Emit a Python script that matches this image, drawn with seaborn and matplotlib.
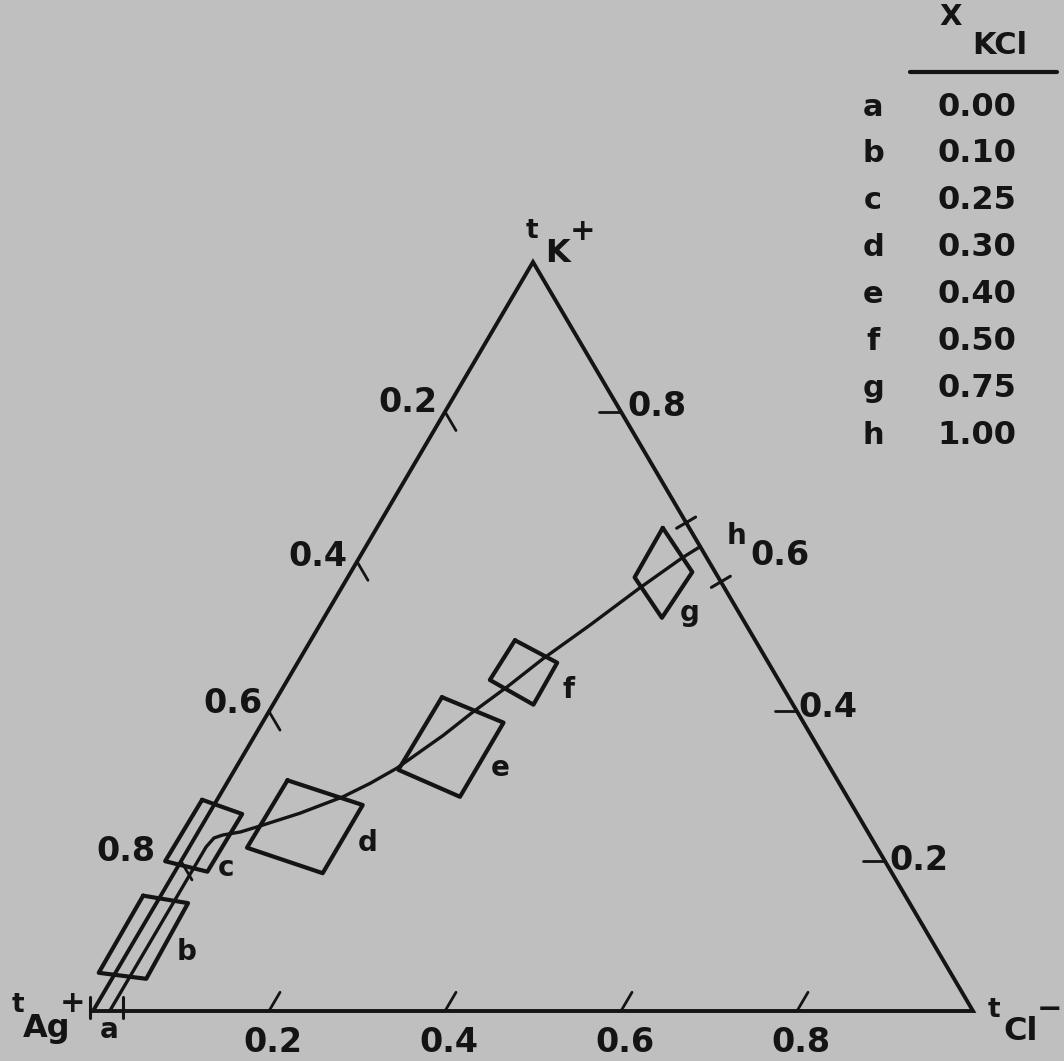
import numpy as np
import pandas as pd
import matplotlib
matplotlib.use("Agg")
import matplotlib.pyplot as plt
import seaborn as sns

# ---------------- data (transference numbers; t_Ag+ = 1 - t_K+ - t_Cl-) ----------------
tick_values = [0.2, 0.4, 0.6, 0.8]
tick_labels = ["0.2", "0.4", "0.6", "0.8"]

point_ids = ["a", "b", "c", "d", "e", "f", "g", "h"]
x_kcl_labels = ["0.00", "0.10", "0.25", "0.30", "0.40", "0.50", "0.75", "1.00"]

# smooth curve through the compositions a ... h
curve_t_cl = [0.019, 0.019, 0.022, 0.030, 0.048, 0.064, 0.103, 0.141, 0.163,
              0.183, 0.214, 0.232, 0.255, 0.276, 0.307, 0.339, 0.367, 0.380]
curve_t_k = [0.000, 0.219, 0.231, 0.235, 0.239, 0.246, 0.264, 0.286, 0.304,
             0.324, 0.368, 0.399, 0.434, 0.470, 0.515, 0.565, 0.605, 0.620]

# uncertainty parallelograms (corners in drawing order)
box_ids = ["b", "c", "d", "e", "f", "g"]
box_t_cl = {
    "b": [-0.020, 0.036, 0.039, -0.019],
    "c": [-0.017, 0.038, 0.037, -0.018],
    "d": [0.067, 0.169, 0.169, 0.066],
    "e": [0.187, 0.274, 0.274, 0.186],
    "f": [0.232, 0.295, 0.296, 0.230],
    "g": [0.325, 0.388, 0.384, 0.326],
}
box_t_k = {
    "b": [0.154, 0.144, 0.043, 0.051],
    "c": [0.282, 0.263, 0.186, 0.200],
    "d": [0.308, 0.275, 0.184, 0.218],
    "e": [0.419, 0.385, 0.286, 0.322],
    "f": [0.495, 0.465, 0.409, 0.442],
    "g": [0.645, 0.586, 0.525, 0.579],
}

# error limits for the end members
a_limits_t_cl = [-0.003, 0.034]   # pure AgCl, on the base
h_limits_t_k = [0.573, 0.652]     # pure KCl, on the right side

# ---------------- geometry / style ----------------
W_PX, H_PX = 1064, 1061
SKEW = 749 / 880          # height/base of the drawn triangle
SCALE = 880               # pixels per unit
ORIGIN = (93, 1011)       # pixel position of the Ag+ corner

BG = "#bfbfbf"
INK = "#141414"
FONT = "DejaVu Sans"
WT = "bold"


def cart(t_cl, t_k):
    t_cl = np.asarray(t_cl, float)
    t_k = np.asarray(t_k, float)
    return t_cl + 0.5 * t_k, t_k * SKEW


sns.set_theme(style="white")
plt.rcParams["font.family"] = [FONT]

fig = plt.figure(figsize=(W_PX / 100, H_PX / 100), dpi=100, facecolor=BG)
ax = fig.add_axes([0, 0, 1, 1])
ax.set_facecolor(BG)
ax.set_xlim(-ORIGIN[0] / SCALE, (W_PX - ORIGIN[0]) / SCALE)
ax.set_ylim((ORIGIN[1] - H_PX) / SCALE, ORIGIN[1] / SCALE)
ax.axis("off")

# triangle
tri_x, tri_y = cart([0, 0, 1, 0], [0, 1, 0, 0])
ax.plot(tri_x, tri_y, color=INK, lw=2.8, solid_joinstyle="miter", zorder=3)

# axis ticks (pointing inside along the grid direction)
TL = 0.025
for v in tick_values:
    x0, y0 = cart(v, 0)
    x1, y1 = cart(v, TL)
    ax.plot([x0, x1], [y0, y1], color=INK, lw=2.0, zorder=3)
    x0, y0 = cart(0, 1 - v)
    x1, y1 = cart(TL, 1 - v - TL)
    ax.plot([x0, x1], [y0, y1], color=INK, lw=2.0, zorder=3)
    if v != 0.6:  # right-side 0.6 mark is covered by the h limits in the original
        x0, y0 = cart(1 - v, v)
        x1, y1 = cart(1 - v - TL, v)
        ax.plot([x0, x1], [y0, y1], color=INK, lw=2.0, zorder=3)

tick_fs = 24
left_off = {0.2: (-37, 9), 0.4: (-39, 5), 0.6: (-36, 8), 0.8: (-55, 10)}
right_off = {0.2: (4, 1), 0.4: (1, 4), 0.6: (41, 6), 0.8: (6, 5)}
for v, lab in zip(tick_values, tick_labels):
    ax.annotate(lab, xy=cart(v, 0), xytext=(4, -31), textcoords="offset pixels",
                ha="center", va="center", fontsize=tick_fs, fontweight=WT, color=INK)
    ax.annotate(lab, xy=cart(0, 1 - v), xytext=left_off[v], textcoords="offset pixels",
                ha="center", va="center", fontsize=tick_fs, fontweight=WT, color=INK)
    ax.annotate(lab, xy=cart(1 - v, v), xytext=right_off[v], textcoords="offset pixels",
                ha="left", va="center", fontsize=tick_fs, fontweight=WT, color=INK)

# vertex labels
def vlabel(corner, parts):
    for txt, off, fs in parts:
        ax.annotate(txt, xy=corner, xytext=off, textcoords="offset pixels",
                    ha="center", va="center", fontsize=fs, fontweight=WT, color=INK)

vlabel(cart(0, 1), [("t", (-1, 31), 19), ("K", (24, 9), 23), ("+", (50, 31), 22)])
vlabel(cart(0, 0), [("t", (-75, 6), 19), ("Ag", (-46, -18), 23), ("+", (-20, 7), 22)])
vlabel(cart(1, 0), [("t", (21, 1), 19), ("Cl", (48, -20), 23), ("\u2212", (76, 2), 22)])

# uncertainty boxes via seaborn
rows = []
for b in box_ids:
    cl = box_t_cl[b] + box_t_cl[b][:1]
    kk = box_t_k[b] + box_t_k[b][:1]
    bx, by = cart(cl, kk)
    for i, (xx, yy) in enumerate(zip(bx, by)):
        rows.append({"box": b, "order": i, "x": xx, "y": yy})
df_boxes = pd.DataFrame(rows)
sns.lineplot(data=df_boxes, x="x", y="y", units="box", estimator=None, sort=False,
             color=INK, lw=3.0, legend=False, ax=ax, zorder=4)

# curve
cx, cy = cart(curve_t_cl, curve_t_k)
df_curve = pd.DataFrame({"x": cx, "y": cy})
sns.lineplot(data=df_curve, x="x", y="y", sort=False, estimator=None,
             color=INK, lw=2.4, legend=False, ax=ax, zorder=5)

# end-member error limits (perpendicular marks)
half_up, half_dn = 14 / SCALE, 7 / SCALE
for v in a_limits_t_cl:
    x0, y0 = cart(v, 0)
    ax.plot([x0, x0], [y0 - half_dn, y0 + half_up], color=INK, lw=2.2, zorder=5)
nrm = np.array([0.851, 0.5]) / np.hypot(0.851, 0.5)
half = 11 / SCALE
for v in h_limits_t_k:
    x0, y0 = cart(1 - v, v)
    ax.plot([x0 - nrm[0] * half, x0 + nrm[0] * half],
            [y0 - nrm[1] * half, y0 + nrm[1] * half], color=INK, lw=2.2, zorder=5)

# point letters
letter_anchor = {
    "a": (cart(curve_t_cl[0], curve_t_k[0]), (-1, -19)),
    "b": (cart(box_t_cl["b"][2], box_t_k["b"][2]), (40, 27)),
    "c": (cart(box_t_cl["c"][2], box_t_k["c"][2]), (19, 4)),
    "d": (cart(box_t_cl["d"][2], box_t_k["d"][2]), (45, 30)),
    "e": (cart(box_t_cl["e"][2], box_t_k["e"][2]), (40, 29)),
    "f": (cart(box_t_cl["f"][2], box_t_k["f"][2]), (35, 15)),
    "g": (cart(box_t_cl["g"][2], box_t_k["g"][2]), (28, 5)),
    "h": (cart(curve_t_cl[-1], curve_t_k[-1]), (36, 11)),
}
for pid in point_ids:
    xy, off = letter_anchor[pid]
    ax.annotate(pid, xy=xy, xytext=off, textcoords="offset pixels", ha="center",
                va="center", fontsize=20, fontweight="bold", color=INK, zorder=6)

# composition key (top right)
def ftext(px, py, s, **kw):
    fig.text(px / W_PX, 1 - py / H_PX, s, color=INK, fontweight=WT, **kw)

ftext(951, 17, "X", ha="center", va="center", fontsize=21)
ftext(1000, 46, "KCl", ha="center", va="center", fontsize=22)
fig.add_artist(plt.Line2D([910 / W_PX, 1057 / W_PX], [1 - 72 / H_PX, 1 - 72 / H_PX],
                          color=INK, lw=3.0))
for i, (pid, lab) in enumerate(zip(point_ids, x_kcl_labels)):
    yy = 107 + i * 46.9
    ftext(873, yy, pid, ha="center", va="center", fontsize=22)
    ftext(977, yy, lab, ha="center", va="center", fontsize=23)

fig.savefig("out.png", dpi=100, facecolor=BG)
